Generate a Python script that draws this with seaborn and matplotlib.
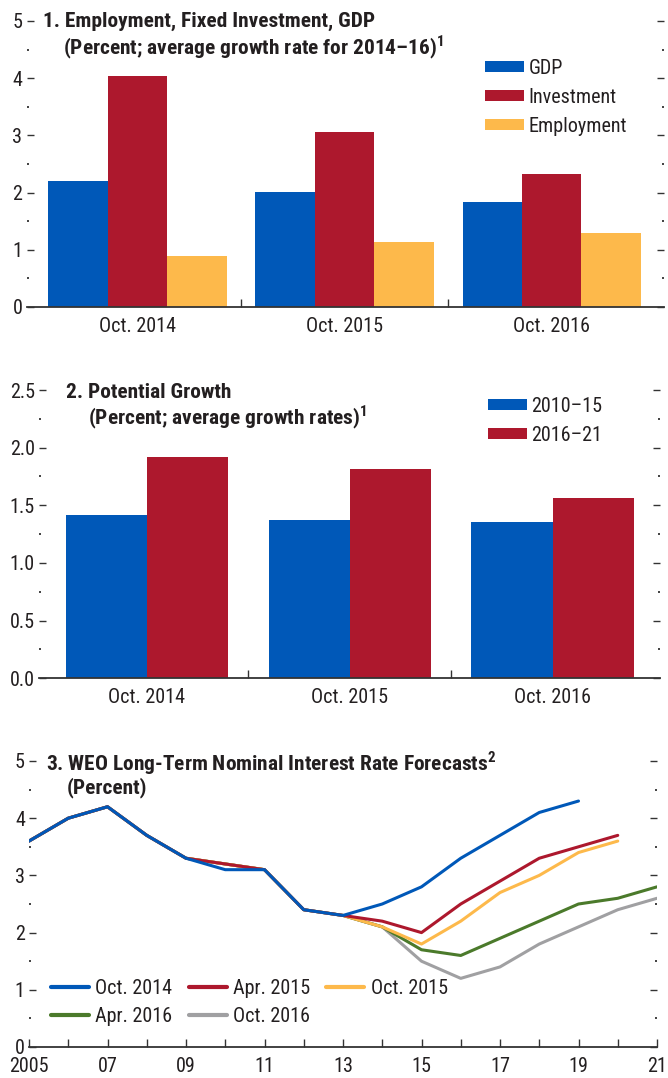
import numpy as np
import pandas as pd
import matplotlib
matplotlib.use("Agg")
import matplotlib.pyplot as plt
import matplotlib.transforms as mtransforms
from matplotlib.ticker import MultipleLocator, FormatStrFormatter
import seaborn as sns

# Panel 1 data
vintages = ["Oct. 2014", "Oct. 2015", "Oct. 2016"]
gdp = [2.20, 2.01, 1.84]
investment = [4.03, 3.06, 2.33]
employment = [0.90, 1.14, 1.30]

# Panel 2 data
pot_2010_15 = [1.42, 1.37, 1.355]
pot_2016_21 = [1.92, 1.815, 1.565]

# Panel 3 data
years = list(range(2005, 2022))
oct_2014 = [3.6, 4.0, 4.2, 3.7, 3.3, 3.1, 3.1, 2.4, 2.3, 2.5, 2.8, 3.3, 3.7, 4.1, 4.3]
apr_2015 = [3.6, 4.0, 4.2, 3.7, 3.3, 3.2, 3.1, 2.4, 2.3, 2.2, 2.0, 2.5, 2.9, 3.3, 3.5, 3.7]
oct_2015 = [3.6, 4.0, 4.2, 3.7, 3.3, 3.2, 3.1, 2.4, 2.3, 2.1, 1.8, 2.2, 2.7, 3.0, 3.4, 3.6]
apr_2016 = [3.6, 4.0, 4.2, 3.7, 3.3, 3.2, 3.1, 2.4, 2.3, 2.1, 1.7, 1.6, 1.9, 2.2, 2.5, 2.6, 2.8]
oct_2016 = [3.6, 4.0, 4.2, 3.7, 3.3, 3.2, 3.1, 2.4, 2.3, 2.1, 1.5, 1.2, 1.4, 1.8, 2.1, 2.4, 2.6]

BLUE = "#0058b8"
RED = "#ad182d"
YELLOW = "#fdb94b"
GREEN = "#4b7a2b"
GRAY = "#a0a0a2"
TXT = "#231f20"
FS = 14.5    # tick / legend text
TFS = 15.4   # panel titles

sns.set_style("white")
plt.rcParams["font.family"] = ["Roboto Condensed", "Liberation Sans Narrow", "Roboto", "DejaVu Sans"]
plt.rcParams["mathtext.fontset"] = "custom"
plt.rcParams["mathtext.rm"] = "Roboto Condensed"
plt.rcParams["mathtext.bf"] = "Roboto Condensed:bold"
plt.rcParams["text.color"] = TXT

W, H = 668, 1078
fig = plt.figure(figsize=(W / 100, H / 100), dpi=100)


def px_axes(left, right, top, bottom):
    return fig.add_axes([left / W, 1 - bottom / H, (right - left) / W, (bottom - top) / H])


def style_y(ax, major, minor, fmt):
    for s in ["top", "left", "right"]:
        ax.spines[s].set_visible(False)
    ax.spines["bottom"].set_color("#333333")
    ax.spines["bottom"].set_linewidth(1.3)
    ax.yaxis.set_major_locator(MultipleLocator(major))
    ax.yaxis.set_minor_locator(MultipleLocator(minor))
    ax.yaxis.set_major_formatter(FormatStrFormatter(fmt))
    ax.tick_params(axis="y", which="major", left=True, right=True, direction="in",
                   length=5, width=1, color="#333333", labelsize=FS, pad=3, labelcolor=TXT)
    ax.tick_params(axis="y", which="minor", left=True, right=True, direction="in",
                   length=1.5, width=1.3, color="#333333")
    ax.set_xlabel("")
    ax.set_ylabel("")


def style_cat_x(ax):
    ax.set_xticks([0, 1, 2])
    ax.set_xticklabels(vintages)
    ax.set_xticks([0.5, 1.5], minor=True)
    ax.tick_params(axis="x", which="major", length=0, labelsize=FS, pad=7, labelcolor=TXT)
    ax.tick_params(axis="x", which="minor", bottom=True, direction="in", length=6,
                   width=1, color="#333333")


LEG_KW = dict(bbox_transform=fig.transFigure, frameon=False, fontsize=FS,
              handlelength=1.95, handleheight=0.5, handletextpad=0.2,
              labelspacing=0.5, borderpad=0, borderaxespad=0)

# ---- Panel 1
ax1 = px_axes(26.5, 664, 21, 307)
df1 = pd.DataFrame({
    "vintage": vintages * 3,
    "series": ["GDP"] * 3 + ["Investment"] * 3 + ["Employment"] * 3,
    "value": gdp + investment + employment,
})
sns.barplot(data=df1, x="vintage", y="value", hue="series",
            hue_order=["GDP", "Investment", "Employment"],
            palette=[BLUE, RED, YELLOW], width=0.86, saturation=1,
            linewidth=0, ax=ax1)
ax1.set_ylim(0, 5)
ax1.set_xlim(-0.536, 2.543)
style_y(ax1, 1, 0.5, "%d")
style_cat_x(ax1)
h, l = ax1.get_legend_handles_labels()
ax1.legend(h, l, loc="upper left", bbox_to_anchor=(485 / W, 1 - 58.5 / H), **LEG_KW)

fig.text(43 / W, 1 - 21.7 / H, "1. Employment, Fixed Investment, GDP",
         fontsize=TFS, fontweight="bold", va="center")
fig.text(63 / W, 1 - 46.7 / H, r"(Percent; average growth rate for 2014–16)$^{\mathbf{1}}$",
         fontsize=TFS, fontweight="bold", va="center")

# ---- Panel 2
ax2 = px_axes(39, 660, 390, 678.3)
df2 = pd.DataFrame({
    "vintage": vintages * 2,
    "period": ["2010–15"] * 3 + ["2016–21"] * 3,
    "value": pot_2010_15 + pot_2016_21,
})
sns.barplot(data=df2, x="vintage", y="value", hue="period",
            hue_order=["2010–15", "2016–21"], palette=[BLUE, RED],
            width=0.8, saturation=1, linewidth=0, ax=ax2)
ax2.set_ylim(0, 2.5)
ax2.set_xlim(-0.532, 2.53)
style_y(ax2, 0.5, 0.25, "%.1f")
style_cat_x(ax2)
h, l = ax2.get_legend_handles_labels()
ax2.legend(h, l, loc="upper left", bbox_to_anchor=(488 / W, 1 - 396.5 / H), **LEG_KW)

fig.text(66 / W, 1 - 392.7 / H, "2. Potential Growth",
         fontsize=TFS, fontweight="bold", va="center")
fig.text(87.5 / W, 1 - 416.7 / H, r"(Percent; average growth rates)$^{\mathbf{1}}$",
         fontsize=TFS, fontweight="bold", va="center")

# ---- Panel 3
ax3 = px_axes(29, 657, 761, 1047)
series3 = {"Oct. 2014": oct_2014, "Apr. 2015": apr_2015, "Oct. 2015": oct_2015,
           "Apr. 2016": apr_2016, "Oct. 2016": oct_2016}
rows = []
for name, vals in series3.items():
    for yr, v in zip(years, vals):
        rows.append({"year": yr, "vintage": name, "rate": v})
df3 = pd.DataFrame(rows)
draw_order = ["Oct. 2016", "Apr. 2016", "Oct. 2015", "Apr. 2015", "Oct. 2014"]
colors3 = {"Oct. 2014": BLUE, "Apr. 2015": RED, "Oct. 2015": YELLOW,
           "Apr. 2016": GREEN, "Oct. 2016": GRAY}
sns.lineplot(data=df3, x="year", y="rate", hue="vintage", hue_order=draw_order,
             palette=colors3, linewidth=2.2, ax=ax3)
ax3.set_ylim(0, 5)
ax3.set_xlim(2005, 2021)
style_y(ax3, 1, 0.5, "%d")
ax3.set_xticks(years)
ax3.set_xticklabels(["2005" if y == 2005 else (f"{y % 100:02d}" if y % 2 == 1 else "")
                     for y in years])
ax3.tick_params(axis="x", which="major", bottom=True, direction="in", length=6,
                width=1, color="#333333", labelsize=FS, pad=7, labelcolor=TXT)
# lift the "0" a little, as in the original
fig.canvas.draw()
zero = ax3.get_yticklabels()[0]
zero.set_transform(zero.get_transform() + mtransforms.ScaledTranslation(0, 4 / 100, fig.dpi_scale_trans))

h, l = ax3.get_legend_handles_labels()
hd = dict(zip(l, h))
for hh in hd.values():
    hh.set_linewidth(3)
leg_order = ["Oct. 2014", "Apr. 2016", "Apr. 2015", "Oct. 2016", "Oct. 2015"]
ax3.legend([hd[k] for k in leg_order], leg_order, ncol=3, loc="upper left",
           bbox_to_anchor=(51 / W, 1 - 979.5 / H), bbox_transform=fig.transFigure,
           frameon=False, fontsize=FS, handlelength=1.9, handletextpad=0.3,
           labelspacing=0.42, columnspacing=0.8, borderpad=0, borderaxespad=0)

fig.text(46 / W, 1 - 762.7 / H, r"3. WEO Long-Term Nominal Interest Rate Forecasts$^{\mathbf{2}}$",
         fontsize=TFS, fontweight="bold", va="center")
fig.text(67 / W, 1 - 787.7 / H, "(Percent)",
         fontsize=TFS, fontweight="bold", va="center")

fig.savefig("out.png", dpi=100)
